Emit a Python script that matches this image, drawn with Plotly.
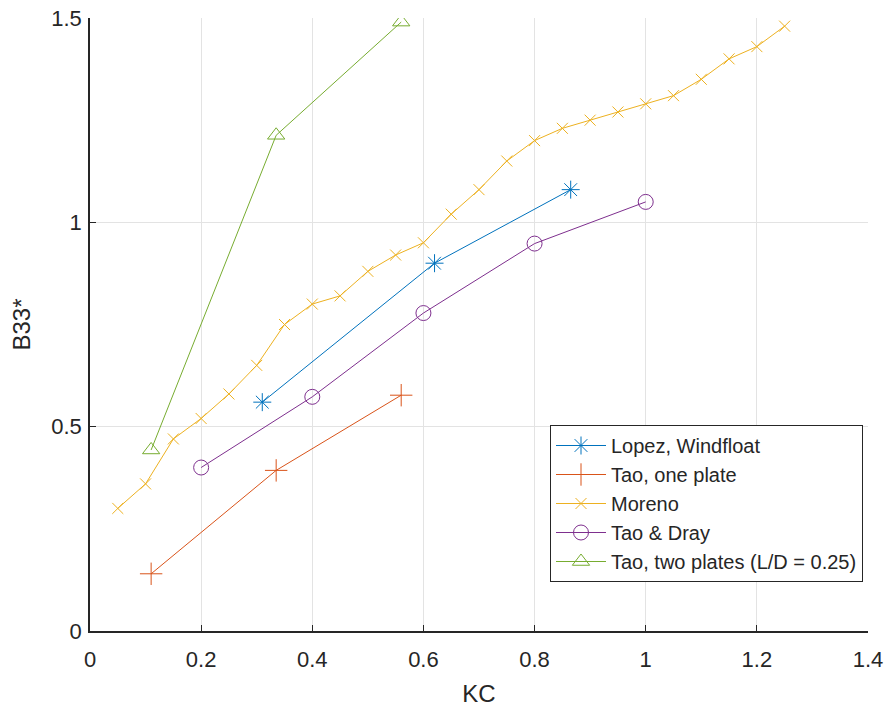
import plotly.graph_objects as go

lopez_x = [0.31, 0.62, 0.865]
lopez_y = [0.56, 0.90, 1.08]

tao_one_x = [0.11, 0.335, 0.56]
tao_one_y = [0.14, 0.393, 0.577]

moreno_x = [0.05, 0.10, 0.15, 0.20, 0.25, 0.30, 0.35, 0.40, 0.45, 0.50, 0.55, 0.60, 0.65,
            0.70, 0.75, 0.80, 0.85, 0.90, 0.95, 1.00, 1.05, 1.10, 1.15, 1.20, 1.25]
moreno_y = [0.30, 0.36, 0.47, 0.52, 0.58, 0.65, 0.75, 0.80, 0.82, 0.88, 0.92, 0.95, 1.02,
            1.08, 1.15, 1.20, 1.23, 1.25, 1.27, 1.29, 1.31, 1.35, 1.40, 1.43, 1.48]

dray_x = [0.2, 0.4, 0.6, 0.8, 1.0]
dray_y = [0.40, 0.573, 0.778, 0.948, 1.05]

tao_two_x = [0.11, 0.335, 0.56]
tao_two_y = [0.443, 1.213, 1.49]

x_ticks = [0, 0.2, 0.4, 0.6, 0.8, 1.0, 1.2, 1.4]
x_ticklabels = ["0", "0.2", "0.4", "0.6", "0.8", "1", "1.2", "1.4"]
y_ticks = [0, 0.5, 1.0, 1.5]
y_ticklabels = ["0", "0.5", "1", "1.5"]

series = [
    ("Lopez, Windfloat", lopez_x, lopez_y, "#0072BD", "asterisk-open", 15),
    ("Tao, one plate", tao_one_x, tao_one_y, "#D95319", "cross-thin-open", 16),
    ("Moreno", moreno_x, moreno_y, "#EDB120", "x-thin-open", 11),
    ("Tao & Dray", dray_x, dray_y, "#7E2F8E", "circle-open", 15),
    ("Tao, two plates (L/D = 0.25)", tao_two_x, tao_two_y, "#77AC30", "triangle-up-open", 15),
]

fig = go.Figure()
for name, xs, ys, col, sym, sz in series:
    fig.add_trace(go.Scatter(
        x=xs, y=ys, name=name, mode="lines+markers",
        line=dict(color=col, width=1),
        marker=dict(symbol=sym, size=sz, color=col, line=dict(color=col, width=1)),
    ))

font_family = "Liberation Sans, Arial, sans-serif"
fig.update_layout(
    width=889, height=708,
    margin=dict(l=90, r=21, t=18, b=77),
    paper_bgcolor="white", plot_bgcolor="white",
    font=dict(family=font_family, size=22, color="#262626"),
    showlegend=True,
    legend=dict(
        x=(863 - 90) / 778, y=(631 - 582) / 613, xanchor="right", yanchor="bottom",
        bgcolor="white", bordercolor="#262626", borderwidth=1,
        font=dict(size=20, color="#262626"),
        itemwidth=50, tracegroupgap=0,
    ),
)
fig.update_xaxes(
    range=[0, 1.4], tickvals=x_ticks, ticktext=x_ticklabels,
    showgrid=True, gridcolor="#e3e3e3", gridwidth=1,
    showline=True, linecolor="#262626", linewidth=1.5,
    ticks="inside", ticklen=6, tickcolor="#262626",
    ticklabelstandoff=8,
    zeroline=False, mirror=False, automargin=False,
    title=dict(text="KC", font=dict(size=24), standoff=14),
)
fig.update_yaxes(
    range=[0, 1.5], tickvals=y_ticks, ticktext=y_ticklabels,
    showgrid=True, gridcolor="#e3e3e3", gridwidth=1,
    showline=True, linecolor="#262626", linewidth=1.5,
    ticks="inside", ticklen=6, tickcolor="#262626",
    ticklabelstandoff=2,
    zeroline=False, mirror=False, automargin=False,
    title=dict(text="B33*", font=dict(size=24), standoff=14),
)

fig.write_html("out.html")
